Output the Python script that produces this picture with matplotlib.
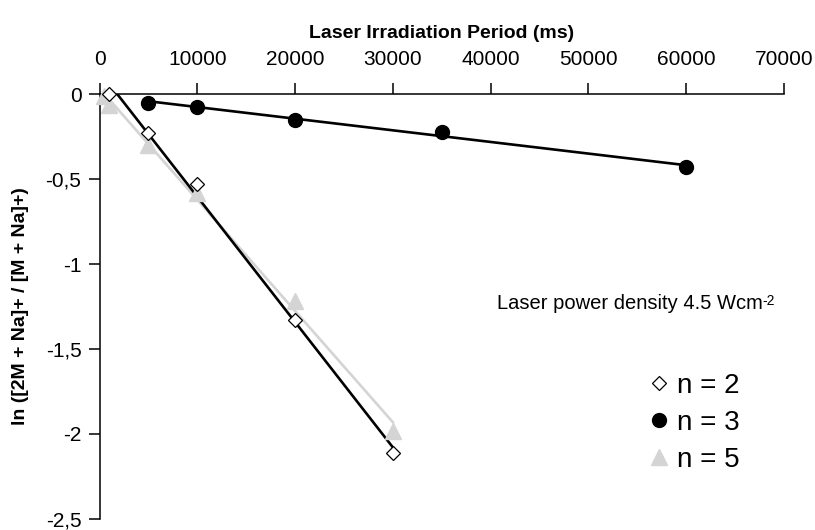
import numpy as np
import matplotlib.pyplot as plt
from matplotlib.ticker import FixedLocator, FixedFormatter

plt.rcParams['font.family'] = ['Liberation Sans', 'DejaVu Sans']

# data
x_n2 = [1000, 5000, 10000, 20000, 30000]
y_n2 = [0.0, -0.23, -0.53, -1.33, -2.11]

x_n3 = [5000, 10000, 20000, 35000, 60000]
y_n3 = [-0.05, -0.075, -0.153, -0.222, -0.431]

x_n5 = [500, 1000, 5000, 10000, 20000, 30000]
y_n5 = [-0.01, -0.065, -0.30, -0.58, -1.22, -1.98]

xticks = [0, 10000, 20000, 30000, 40000, 50000, 60000, 70000]
yticks = [0, -0.5, -1, -1.5, -2, -2.5]
ytick_labels = ['0', '-0,5', '-1', '-1,5', '-2', '-2,5']

grey = '#d4d4d4'


def trend(ax, xs, ys, color):
    # linear trendline over the data range
    k, b = np.polyfit(xs, ys, 1)
    xx = np.array([min(xs), max(xs)])
    ax.plot(xx, k * xx + b, color=color, lw=1.9, zorder=2)


def main():
    fig = plt.figure(figsize=(8.15, 5.3), dpi=100)
    ax = fig.add_axes([0.1221, 0.0208, 0.8399, 0.8018])

    trend(ax, x_n5, y_n5, grey)
    trend(ax, x_n2, y_n2, 'black')
    trend(ax, x_n3, y_n3, 'black')

    ax.plot(x_n5, y_n5, ls='none', marker='^', ms=11.5, color=grey,
            label='n = 5', zorder=3, clip_on=False)
    ax.plot(x_n2, y_n2, ls='none', marker='D', ms=7, mfc='white', mec='black',
            mew=0.9, label='n = 2', zorder=4, clip_on=False)
    ax.plot(x_n3, y_n3, ls='none', marker='o', ms=10, color='black',
            label='n = 3', zorder=4, clip_on=False)

    ax.set_xlim(0, 70000)
    ax.set_ylim(-2.5, 0)

    ax.spines['bottom'].set_visible(False)
    ax.spines['right'].set_visible(False)
    ax.spines['top'].set_linewidth(1.1)
    ax.spines['left'].set_linewidth(1.1)

    ax.xaxis.tick_top()
    ax.xaxis.set_label_position('top')
    ax.xaxis.set_major_locator(FixedLocator(xticks))
    ax.set_xticklabels([str(v) for v in xticks])
    ax.yaxis.set_major_locator(FixedLocator(yticks))
    ax.yaxis.set_major_formatter(FixedFormatter(ytick_labels))
    ax.tick_params(direction='out', length=8, width=1.1, labelsize=15, pad=5)
    ax.tick_params(axis='x', pad=10)

    ax.set_xlabel('Laser Irradiation Period (ms)', fontsize=14, fontweight='bold', labelpad=9)
    ax.set_ylabel('ln ([2M + Na]+ / [M + Na]+)', fontsize=14, fontweight='bold', labelpad=12)

    # text with a small raised "-2"
    t = ax.text(40600, -1.23, 'Laser power density 4.5 Wcm', fontsize=14.5, va='center')
    ax.annotate('-2', xy=(1, 0.42), xycoords=t, fontsize=10, va='baseline', ha='left')

    handles, labels = ax.get_legend_handles_labels()
    order = [1, 2, 0]
    ax.legend([handles[i] for i in order], [labels[i] for i in order],
              loc='center left', bbox_to_anchor=(0.805, 0.226), frameon=False,
              fontsize=20, handlelength=0.6, handletextpad=0.35, labelspacing=0.4,
              borderpad=0, borderaxespad=0)

    fig.savefig('out.png', dpi=100)


if __name__ == "__main__":
    main()
